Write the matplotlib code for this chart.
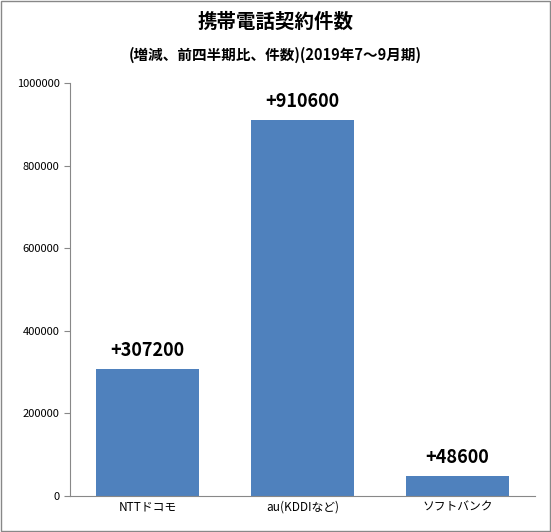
import matplotlib
matplotlib.use("Agg")
import matplotlib.pyplot as plt

plt.rcParams['font.family'] = ['Noto Sans CJK JP', 'DejaVu Sans']

categories = ["NTTドコモ", "au(KDDIなど)", "ソフトバンク"]
values = [307200, 910600, 48600]
labels = ["+307200", "+910600", "+48600"]
yticks = [0, 200000, 400000, 600000, 800000, 1000000]

fig = plt.figure(figsize=(5.51, 5.32), dpi=100)
fig.patch.set_facecolor("white")
fig.patches.append(plt.Rectangle((0.002, 0.002), 0.996, 0.996, transform=fig.transFigure,
                                 fill=False, edgecolor="#888888", linewidth=1))
ax = fig.add_axes([70/551, 1-496/532, 465/551, 413/532])
x = range(len(categories))
bars = ax.bar(x, values, width=0.67, color="#4F81BD")
for xi, v, l in zip(x, values, labels):
    ax.text(xi, v + 22000, l, ha="center", va="bottom", fontsize=13, fontweight="bold")
ax.set_xlim(-0.5, 2.5)
ax.set_ylim(0, 1000000)
ax.set_yticks(yticks)
ax.set_yticklabels([str(t) for t in yticks], fontsize=8)
ax.set_xticks(list(x))
ax.set_xticklabels(categories, fontsize=8.5)
for s in ["top", "right"]:
    ax.spines[s].set_visible(False)
ax.spines["left"].set_color("#888888")
ax.spines["bottom"].set_color("#888888")
ax.tick_params(axis="y", length=4, color="#888888")
ax.tick_params(axis="x", length=0)
fig.text(0.5, 1-22/532, "携帯電話契約件数", ha="center", va="center", fontsize=14, fontweight="bold")
fig.text(0.5, 1-55/532, "(増減、前四半期比、件数)(2019年7～9月期)", ha="center", va="center", fontsize=10.5, fontweight="bold")
fig.savefig("out.png", dpi=100)
